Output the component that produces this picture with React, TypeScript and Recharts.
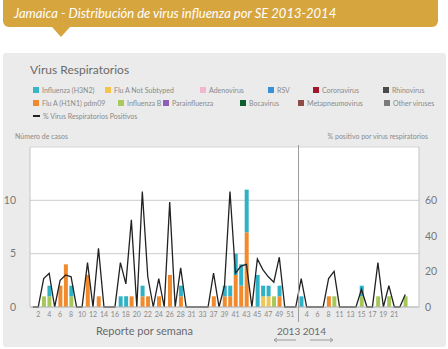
import { Bar, CartesianGrid, ComposedChart, Line, XAxis, YAxis } from 'recharts'

const H1N1 = '#f08a2c'
const NOT_SUB = '#eec65a'
const FLU_B = '#a6c85a'
const H3N2 = '#2fb1c6'

// semanas con reporte (faltan algunas)
const weeks2013 = [
  1, 2, 3, 4, 5, 6, 7, 8, 9, 10, 11, 12, 13, 14, 15, 16, 17, 18, 19, 20, 21, 22, 23, 24, 25, 26, 27, 28,
  30, 31, 32, 33, 35, 37, 38, 39, 40, 41, 42, 43, 44, 45, 46, 47, 48, 49, 50, 51, 52,
]
const weeks2014 = [3, 4, 5, 6, 7, 8, 10, 11, 12, 13, 14, 15, 16, 17, 18, 19, 20, 21, 22, 23, 24, 25]

const tickWeeks2013 = [2, 4, 6, 8, 10, 12, 14, 16, 18, 20, 22, 24, 26, 28, 31, 33, 37, 39, 41, 43, 45, 47, 49, 51]
const tickWeeks2014 = [4, 6, 8, 11, 13, 15, 17, 19, 21]

const h1n1_2013 = [
  0, 0, 0, 0, 0, 2, 4, 0, 0, 0, 3, 0, 1, 0, 0, 0, 0, 0, 1, 0, 1, 1, 0, 1, 0, 3, 0, 1, 0, 0, 0, 0, 0, 1, 0, 1, 1,
  3, 2, 7, 0, 0, 0, 0, 0, 1, 0, 0, 0,
]
const notSub_2013 = [
  0, 0, 0, 0, 0, 0, 0, 0, 0, 0, 0, 0, 0, 0, 0, 0, 0, 0, 0, 0, 0, 0, 0, 0, 0, 0, 0, 0, 0, 0, 0, 0, 0, 0, 0, 0, 0,
  0, 0, 0, 0, 0, 1, 1, 0, 0, 0, 0, 0,
]
const fluB_2013 = [
  0, 0, 1, 1, 0, 0, 0, 1, 0, 0, 0, 0, 0, 0, 0, 0, 0, 0, 0, 0, 0, 0, 0, 0, 0, 0, 0, 0, 0, 0, 0, 0, 0, 0, 0, 0, 0,
  0, 0, 0, 0, 0, 0, 0, 1, 0, 0, 0, 0,
]
const h3n2_2013 = [
  0, 0, 0, 1, 0, 0, 0, 1, 0, 0, 0, 0, 0, 0, 0, 0, 1, 1, 0, 0, 1, 0, 0, 0, 0, 0, 0, 1, 0, 0, 0, 0, 0, 0, 0, 1, 1,
  2, 2, 4, 0, 3, 1, 1, 0, 1, 0, 0, 0,
]
const pct_2013 = [
  0, 0, 16, 19, 0, 15, 18, 17, 0, 0, 25, 0, 33, 0, 0, 0, 25, 13, 49, 0, 65, 17, 0, 16, 0, 59, 0, 22, 0, 0, 0, 0,
  0, 19, 0, 12, 65, 19, 23, 24, 0, 27, 21, 17, 14, 28, 0, 0, 0,
]

const h1n1_2014 = [0, 0, 0, 0, 0, 1, 0, 0, 0, 0, 0, 0, 0, 0, 0, 0, 0, 0, 0, 0, 0, 0]
const notSub_2014 = [0, 0, 0, 0, 0, 0, 0, 0, 0, 0, 0, 0, 0, 0, 0, 0, 0, 0, 0, 0, 0, 0]
const fluB_2014 = [0, 0, 0, 0, 0, 0, 1, 0, 0, 0, 0, 1, 0, 0, 1, 0, 1, 0, 0, 1, 0, 0]
const h3n2_2014 = [1, 0, 0, 0, 0, 0, 0, 0, 0, 0, 0, 1, 0, 0, 0, 0, 0, 0, 0, 0, 0, 0]
const pct_2014 = [16, 0, 0, 0, 0, 16, 20, 0, 0, 0, 0, 10, 0, 0, 25, 0, 12, 0, 0, 7, null, null]

const legendRows = [
  [
    { x: 33, color: '#38b6c9', label: 'Influenza (H3N2)' },
    { x: 105, color: '#f3c64b', label: 'Flu A Not Subtyped' },
    { x: 200, color: '#f6b5cf', label: 'Adenovirus' },
    { x: 268, color: '#3b8fd6', label: 'RSV' },
    { x: 313, color: '#a3152f', label: 'Coronavirus' },
    { x: 383, color: '#4a4a4a', label: 'Rhinovirus' },
  ],
  [
    { x: 33, color: '#f08a30', label: 'Flu A (H1N1) pdm09' },
    { x: 118, color: '#a8c95b', label: 'Influenza B' },
    { x: 163, color: '#8e5fb4', label: 'Parainfluenza' },
    { x: 240, color: '#0d5d2f', label: 'Bocavirus' },
    { x: 298, color: '#8f4b45', label: 'Metapneumovirus' },
    { x: 384, color: '#7b7b7b', label: 'Other viruses' },
  ],
]

const data = [
  ...weeks2013.map((w, i) => ({
    key: `2013-${w}`,
    tick: tickWeeks2013.includes(w) ? String(w) : '',
    h1n1: h1n1_2013[i],
    notSub: notSub_2013[i],
    fluB: fluB_2013[i],
    h3n2: h3n2_2013[i],
    pct: pct_2013[i],
  })),
  ...weeks2014.map((w, i) => ({
    key: `2014-${w}`,
    tick: tickWeeks2014.includes(w) ? String(w) : '',
    h1n1: h1n1_2014[i],
    notSub: notSub_2014[i],
    fluB: fluB_2014[i],
    h3n2: h3n2_2014[i],
    pct: pct_2014[i],
  })),
]
const tickByKey = Object.fromEntries(data.map((d) => [d.key, d.tick]))

const W = 448
const H = 349
const M = { top: 147, right: 9, left: 10, bottom: 30 }
const AXIS_W = 20
const plotLeft = M.left + AXIS_W
const plotRight = W - M.right - AXIS_W
const band = (plotRight - plotLeft) / data.length
const sepX = plotLeft + band * weeks2013.length

const FONT = 'Lato, "Open Sans", sans-serif'
const small = { fontSize: 7, color: '#8a8a8a', whiteSpace: 'nowrap' as const }

export default function App() {
  return (
    <div style={{ position: 'absolute', left: 0, top: 0, width: W, height: H, background: '#fff', fontFamily: FONT }}>
      {/* cabecera */}
      <div
        style={{
          position: 'absolute',
          left: 3,
          top: 0,
          width: 435,
          height: 27,
          background: '#d7a53e',
          borderRadius: '0 0 6px 6px',
        }}
      />
      <div
        style={{
          position: 'absolute',
          left: 52,
          top: 27,
          width: 0,
          height: 0,
          borderLeft: '9px solid transparent',
          borderRight: '9px solid transparent',
          borderTop: '10px solid #d7a53e',
        }}
      />
      <div
        style={{
          position: 'absolute',
          left: 14,
          top: 5,
          color: '#fff',
          fontStyle: 'italic',
          fontSize: 13,
          whiteSpace: 'nowrap',
        }}
      >
        Jamaica - Distribución de virus influenza por SE 2013-2014
      </div>

      {/* panel gris */}
      <div
        style={{
          position: 'absolute',
          left: 3,
          top: 53,
          width: 443,
          height: 294,
          background: '#ebebeb',
          borderRadius: 3,
        }}
      />
      <div style={{ position: 'absolute', left: 30, top: 62, fontSize: 12, color: '#6a6a6a', whiteSpace: 'nowrap' }}>
        Virus Respiratorios
      </div>
      {legendRows.map((row, r) =>
        row.map((it) => (
          <div
            key={it.label}
            style={{
              ...small,
              position: 'absolute',
              left: it.x,
              top: 86 + r * 13,
              height: 8,
              display: 'flex',
              alignItems: 'center',
            }}
          >
            <span style={{ display: 'inline-block', width: 6, height: 6, background: it.color, marginRight: 3 }} />
            {it.label}
          </div>
        ))
      )}
      <div style={{ ...small, position: 'absolute', left: 33, top: 112, height: 8, display: 'flex', alignItems: 'center' }}>
        <span style={{ display: 'inline-block', width: 7, height: 2, background: '#222', marginRight: 3 }} />
        % Virus Respiratorios Positivos
      </div>
      <div style={{ ...small, position: 'absolute', left: 15, top: 132 }}>Número de casos</div>
      <div style={{ ...small, position: 'absolute', right: 20, top: 132 }}>% positivo por virus respiratorios</div>

      <div style={{ position: 'absolute', left: 0, top: 0 }}>
        <ComposedChart width={W} height={H} data={data} margin={M} barSize={4}>
          <CartesianGrid vertical={false} stroke="#d6d6d6" strokeWidth={1.2} fill="#fff" yAxisId="n" />
          <XAxis
            dataKey="key"
            interval={0}
            tickFormatter={(k) => tickByKey[k] ?? ''}
            tick={{ fill: '#8a8a8a', fontSize: 7, fontFamily: FONT }}
            tickLine={false}
            tickSize={0}
            tickMargin={5}
            axisLine={{ stroke: '#b8b8b8' }}
            height={12}
          />
          <YAxis
            yAxisId="n"
            domain={[0, 15]}
            ticks={[0, 5, 10, 15]}
            tickFormatter={(v) => (v === 15 ? '' : String(v))}
            tick={{ fill: '#777', fontSize: 10.5, fontFamily: FONT }}
            tickLine={false}
            tickSize={0}
            tickMargin={14}
            axisLine={{ stroke: '#c4c4c4' }}
            width={AXIS_W}
          />
          <YAxis
            yAxisId="pct"
            orientation="right"
            domain={[0, 90]}
            ticks={[0, 20, 40, 60]}
            tick={{ fill: '#777', fontSize: 10.5, fontFamily: FONT }}
            tickLine={false}
            tickSize={0}
            tickMargin={6}
            axisLine={{ stroke: '#c4c4c4' }}
            width={AXIS_W}
          />
          <Bar yAxisId="n" dataKey="h1n1" stackId="a" fill={H1N1} isAnimationActive={false} />
          <Bar yAxisId="n" dataKey="notSub" stackId="a" fill={NOT_SUB} isAnimationActive={false} />
          <Bar yAxisId="n" dataKey="fluB" stackId="a" fill={FLU_B} isAnimationActive={false} />
          <Bar yAxisId="n" dataKey="h3n2" stackId="a" fill={H3N2} isAnimationActive={false} />
          <Line
            yAxisId="pct"
            dataKey="pct"
            type="linear"
            stroke="#222"
            strokeWidth={1.3}
            dot={false}
            activeDot={false}
            isAnimationActive={false}
          />
        </ComposedChart>
      </div>

      {/* separador 2013 / 2014 */}
      <div style={{ position: 'absolute', left: sepX - 0.5, top: 145, width: 1, height: 177, background: '#9c9c9c' }} />

      <div style={{ position: 'absolute', left: 96, top: 324, fontSize: 11, color: '#6a6a6a', whiteSpace: 'nowrap' }}>
        Reporte por semana
      </div>
      <div style={{ position: 'absolute', left: 277, top: 325, fontSize: 10, color: '#6a6a6a', whiteSpace: 'nowrap' }}>
        2013 2014
      </div>
      <svg style={{ position: 'absolute', left: 0, top: 0 }} width={W} height={H}>
        <g stroke="#9a9a9a" strokeWidth={1} fill="none">
          <line x1={274} y1={340} x2={296} y2={340} />
          <polyline points="277,338 274,340 277,342" />
          <line x1={310} y1={340} x2={333} y2={340} />
          <polyline points="330,338 333,340 330,342" />
        </g>
      </svg>
    </div>
  )
}
